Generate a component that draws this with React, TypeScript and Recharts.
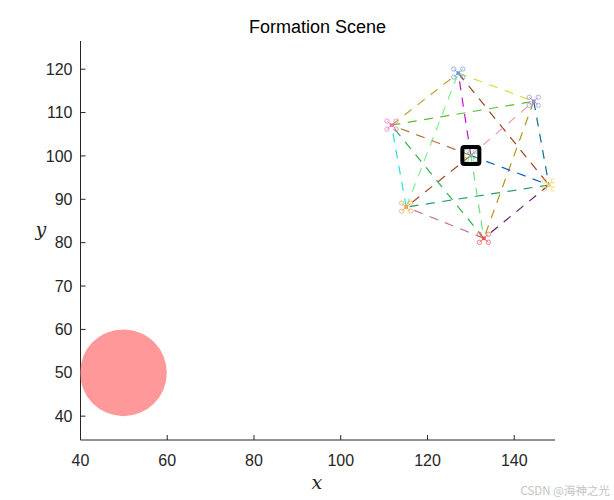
import { ScatterChart, Scatter, XAxis, YAxis } from "recharts";

const xTicks = [40, 60, 80, 100, 120, 140];
const yTicks = [40, 50, 60, 70, 80, 90, 100, 110, 120];
const xDomain = [40, 149.4];
const yDomain = [34.5, 126.5];

const obstacleX = [49.9];
const obstacleY = [50];
const obstacleRadius = 10;

// order: top, upper right, right, bottom, lower left, upper left, centre
const droneX = [127.1, 144.5, 148, 133, 115.1, 111.7, 130];
const droneY = [119.1, 112.6, 93.3, 81, 88.2, 107.1, 100.1];
const droneColors = ["#6c9bdc", "#9c8be0", "#f8d060", "#f05050", "#f0a040", "#f070b0", "#7fb98a"];

const edgeFrom = [0, 1, 2, 3, 4, 5, 0, 1, 2, 3, 4, 5, 6, 6, 6, 6, 6, 6];
const edgeTo = [1, 2, 3, 4, 5, 0, 2, 3, 4, 5, 0, 1, 0, 1, 2, 3, 4, 5];
const edgeColors = [
  "#d8e040", "#0a6a9a", "#6a1a70", "#c8709a", "#20e0e8", "#c8a030",
  "#a0401e", "#b09a20", "#20a070", "#30b050", "#80f090", "#55c030",
  "#c010d0", "#e8a0c0", "#0d5ec0", "#70e080", "#a84a28", "#b5703a",
];

const chartWidth = 614;
const chartHeight = 500;
const plot = { left: 80.5, right: 59, top: 41, bottom: 60 };
const pxPerUnit = (chartWidth - plot.left - plot.right) / (xDomain[1] - xDomain[0]);

const obstacleData = obstacleX.map((x, i) => ({ x, y: obstacleY[i] }));
const droneData = droneX.map((x, i) => ({ x, y: droneY[i], color: droneColors[i] }));
const targetData = [{ x: droneX[6], y: droneY[6] }];

const Empty = () => <g />;

const ObstacleShape = ({ cx, cy }: any) => (
  <circle cx={cx} cy={cy} r={obstacleRadius * pxPerUnit} fill="#ff9999" />
);

const DroneShape = ({ cx, cy, payload }: any) => {
  const c = payload.color;
  const dx = 4.5;
  const dy = 4;
  return (
    <g fill="none" stroke={c} strokeWidth={0.7}>
      {[[-1, -1], [1, -1], [-1, 1], [1, 1]].map(([a, b], i) => (
        <g key={i}>
          <line x1={cx} y1={cy} x2={cx + a * dx} y2={cy + b * dy} />
          <circle cx={cx + a * dx} cy={cy + b * dy} r={2.2} />
        </g>
      ))}
      <rect x={cx - 1.8} y={cy - 1.8} width={3.6} height={3.6} fill={c} stroke="none" />
    </g>
  );
};

const TargetShape = ({ cx, cy }: any) => (
  <rect x={cx - 8.5} y={cy - 8.5} width={17} height={17} rx={2} fill="none" stroke="#000" strokeWidth={4} />
);

const tickStyle = { fontSize: 16, fontFamily: "Liberation Sans", fill: "#262626" };
const labelStyle = { fontSize: 19, fontFamily: "DejaVu Serif", fontStyle: "italic", fill: "#262626" };

export default function App() {
  return (
    <div style={{ position: "absolute", left: 0, top: 0, width: chartWidth, height: chartHeight, background: "#fff" }}>
      <div
        style={{
          position: "absolute",
          left: 80,
          width: 475,
          top: 17,
          textAlign: "center",
          fontFamily: "Liberation Sans",
          fontSize: 18,
          color: "#000",
          lineHeight: "20px",
        }}
      >
        Formation Scene
      </div>
      <ScatterChart width={chartWidth} height={chartHeight} margin={{ left: 20.5, right: plot.right, top: plot.top, bottom: 20 }}>
        <XAxis
          type="number"
          dataKey="x"
          domain={xDomain}
          ticks={xTicks}
          allowDataOverflow
          height={40}
          tickSize={-5}
          tickMargin={20}
          tick={tickStyle}
          stroke="#262626"
          interval={0}
          label={{ value: "x", position: "insideBottom", offset: -9, dx: -1, style: labelStyle }}
        />
        <YAxis
          type="number"
          dataKey="y"
          domain={yDomain}
          ticks={yTicks}
          allowDataOverflow
          width={60}
          tickSize={-5}
          tickMargin={13}
          tick={tickStyle}
          stroke="#262626"
          interval={0}
          label={{ value: "y", position: "insideLeft", offset: 15, dy: -11, style: labelStyle }}
        />
        <Scatter data={obstacleData} shape={ObstacleShape} isAnimationActive={false} />
        {edgeFrom.map((from, i) => (
          <Scatter
            key={i}
            data={[
              { x: droneX[from], y: droneY[from] },
              { x: droneX[edgeTo[i]], y: droneY[edgeTo[i]] },
            ]}
            line={{ stroke: edgeColors[i], strokeWidth: 1.2, strokeDasharray: "9 7.5" }}
            shape={Empty}
            isAnimationActive={false}
          />
        ))}
        <Scatter data={droneData} shape={DroneShape} isAnimationActive={false} />
        <Scatter data={targetData} shape={TargetShape} isAnimationActive={false} />
      </ScatterChart>
      <div
        style={{
          position: "absolute",
          right: 4,
          top: 483,
          fontFamily: "Noto Sans CJK SC",
          fontSize: 11.5,
          lineHeight: "14px",
          color: "#c4c4c4",
          whiteSpace: "nowrap",
        }}
      >
        CSDN @海神之光
      </div>
    </div>
  );
}
